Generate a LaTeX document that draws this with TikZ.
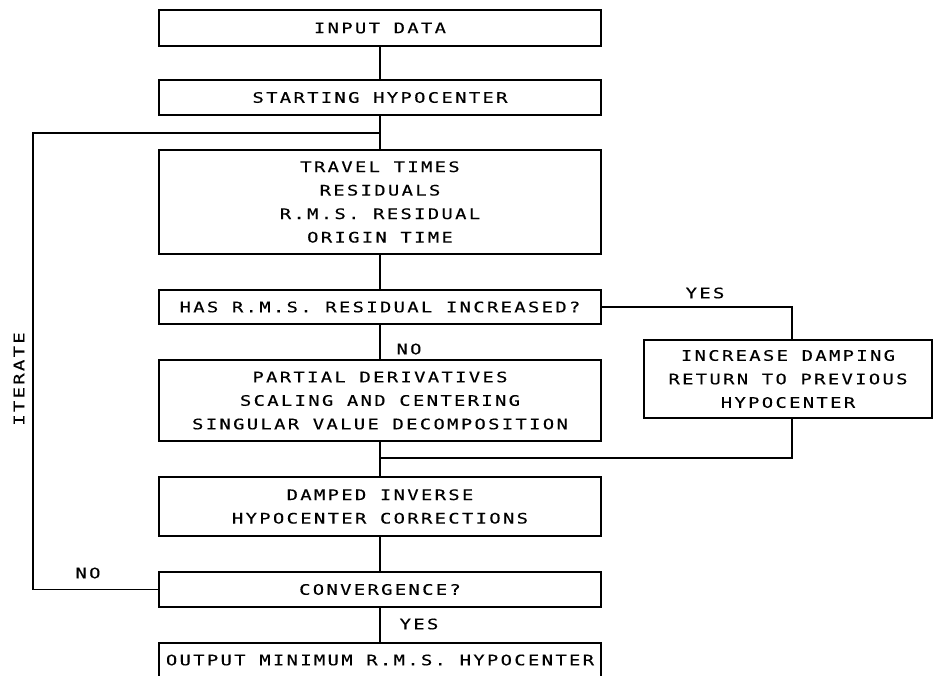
\documentclass[tikz,border=0pt]{standalone}
\usepackage{fontspec}
\newfontfamily\plotfont[FakeStretch=1.3,LetterSpace=16,FakeBold=0.3]{DejaVu Sans Mono}
\begin{document}
\begin{tikzpicture}[x=1pt,y=-1pt,
  every node/.style={font=\plotfont\fontsize{14.5}{23.5}\selectfont},
  box/.style={draw,line width=1.1pt,minimum width=442pt,align=center,inner sep=0pt},
  conn/.style={line width=1.1pt},
  lbl/.style={inner sep=0pt}]
\clip (0,0) rectangle (934,675);
\fill[white] (0,0) rectangle (934,675);
\node[box,minimum height=36pt] (input) at (380,28) {INPUT DATA};
\node[box,minimum height=35pt] (start) at (380,97.5) {STARTING HYPOCENTER};
\node[box,minimum height=104pt] (travel) at (380,202) {TRAVEL TIMES\\RESIDUALS\\R.M.S. RESIDUAL\\ORIGIN TIME};
\node[box,minimum height=34pt] (hasrms) at (380,307) {HAS R.M.S. RESIDUAL INCREASED?};
\node[box,minimum height=81pt] (partial) at (380,400.5) {PARTIAL DERIVATIVES\\SCALING AND CENTERING\\SINGULAR VALUE DECOMPOSITION};
\node[box,minimum width=288pt,minimum height=78pt] (increase) at (788,379) {INCREASE DAMPING\\RETURN TO PREVIOUS\\HYPOCENTER};
\node[box,minimum height=59pt] (damped) at (380,506.5) {DAMPED INVERSE\\HYPOCENTER CORRECTIONS};
\node[box,minimum height=35pt] (conv) at (380,589.5) {CONVERGENCE?};
\node[box,minimum height=34pt] (output) at (380,660) {OUTPUT MINIMUM R.M.S. HYPOCENTER};

\coordinate (lj) at (380,133);
\coordinate (lt) at (33,133);
\coordinate (lb) at (33,589.5);
\coordinate (yc) at (792,307);
\coordinate (ic) at (792,458);
\coordinate (jc) at (380,458);

\draw[conn] (input) -- (start);
\draw[conn] (start) -- (travel);
\draw[conn] (travel) -- (hasrms);
\draw[conn] (hasrms) -- (partial);
\draw[conn] (partial) -- (damped);
\draw[conn] (damped) -- (conv);
\draw[conn] (conv) -- (output);
\draw[conn] (conv.west) -- (lb) -- (lt) -- (lj);
\draw[conn] (hasrms.east) -- (yc) -- (yc |- increase.north);
\draw[conn] (ic |- increase.south) -- (ic) -- (jc);

\node[lbl] (no1) at (409,349) {NO};
\node[lbl] (yes1) at (705,293) {YES};
\node[lbl] (no2) at (88,573) {NO};
\node[lbl] (yes2) at (419,624) {YES};
\node[lbl,rotate=90] (iter) at (19,379) {ITERATE};
\end{tikzpicture}
\end{document}
